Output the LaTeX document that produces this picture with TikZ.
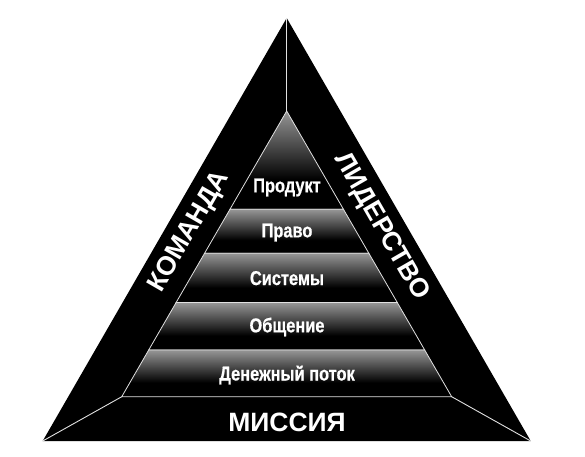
\documentclass[tikz,border=0pt]{standalone}
\usepackage{fontspec}
\setmainfont{Liberation Sans}
\newfontfamily\condfont[FakeStretch=0.82,FakeBold=0.5]{Liberation Sans}
\usetikzlibrary{calc}
\definecolor{bandtop}{RGB}{150,150,150}
\definecolor{edgeline}{RGB}{225,225,225}
\pgfdeclareverticalshading{bandshade}{100bp}{color(0bp)=(black); color(25bp)=(black); color(40bp)=(black); color(75bp)=(bandtop); color(100bp)=(bandtop)}
\begin{document}
\begin{tikzpicture}[x=1pt,y=-1pt,
  bandlabel/.style={text=white,anchor=base,inner sep=0pt,font=\condfont\bfseries\fontsize{20}{20}\selectfont},
  sidelabel/.style={text=white,inner sep=0pt,font=\bfseries\fontsize{26.5}{26.5}\selectfont},
  sep/.style={draw=edgeline,line width=0.9pt},
  band/.style={shading=bandshade,draw=edgeline,line width=0.8pt}]
\useasboundingbox (0,0) rectangle (585,456);
% outer triangle
\coordinate (A) at (286.7,18);
\coordinate (L) at (42.7,441);
\coordinate (R) at (530.7,441);
\fill[black] (A) -- (L) -- (R) -- cycle;
% inner pyramid
\coordinate (a) at (286.7,111);
\coordinate (l1) at (229.94,209.3); \coordinate (r1) at (343.46,209.3);
\coordinate (l2) at (204.54,253.3); \coordinate (r2) at (368.86,253.3);
\coordinate (l3) at (176.13,302.5); \coordinate (r3) at (397.27,302.5);
\coordinate (l4) at (148.70,350.0); \coordinate (r4) at (424.70,350.0);
\coordinate (l5) at (121.74,396.7); \coordinate (r5) at (451.66,396.7);
\shade[band] (a) -- (l1) -- (r1) -- cycle;
\shade[band] (l1) -- (l2) -- (r2) -- (r1) -- cycle;
\shade[band] (l2) -- (l3) -- (r3) -- (r2) -- cycle;
\shade[band] (l3) -- (l4) -- (r4) -- (r3) -- cycle;
\shade[band] (l4) -- (l5) -- (r5) -- (r4) -- cycle;
% separators of the outer frame
\draw[sep] (A) -- (a);
\draw[sep] (l5) -- (L);
\draw[sep] (r5) -- (R);
% labels
\node[bandlabel] (t1) at (287,192.3) {Продукт};
\node[bandlabel] (t2) at (287,237.3) {Право};
\node[bandlabel] (t3) at (287,285) {Системы};
\node[bandlabel] (t4) at (287,332.3) {Общение};
\node[bandlabel] (t5) at (287,380.5) {Денежный поток};
\node[sidelabel,anchor=base] (mis) at (287,431) {МИССИЯ};
\node[sidelabel,rotate=60] (kom) at (189.5,232) {КОМАНДА};
\node[sidelabel,rotate=-60] (lid) at (381,227) {ЛИДЕРСТВО};
\end{tikzpicture}
\end{document}
